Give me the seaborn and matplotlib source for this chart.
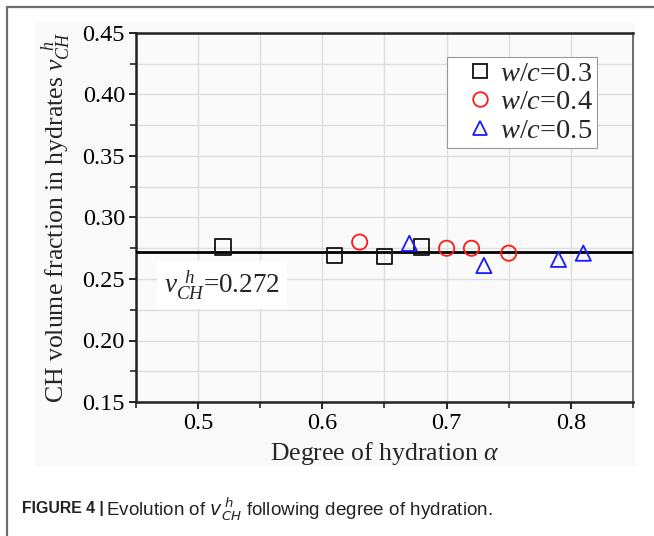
import matplotlib
matplotlib.use("Agg")
import matplotlib.pyplot as plt
from matplotlib.lines import Line2D
from matplotlib.patches import Rectangle
import numpy as np
import pandas as pd
import seaborn as sns

# Degree of hydration and CH volume fraction for each w/c ratio
alpha_03 = [0.52, 0.61, 0.65, 0.68]
vch_03 = [0.276, 0.269, 0.268, 0.276]
alpha_04 = [0.63, 0.70, 0.72, 0.75]
vch_04 = [0.280, 0.275, 0.275, 0.271]
alpha_05 = [0.67, 0.73, 0.79, 0.81]
vch_05 = [0.279, 0.261, 0.266, 0.271]
vch_mean = 0.272

series_labels = ["w/c=0.3", "w/c=0.4", "w/c=0.5"]
series_colors = ["#111111", "#ff1a1a", "#1a1aff"]
series_markers = ["s", "o", "^"]

df = pd.DataFrame({
    "alpha": alpha_03 + alpha_04 + alpha_05,
    "vch": vch_03 + vch_04 + vch_05,
    "wc": [series_labels[0]] * len(alpha_03)
          + [series_labels[1]] * len(alpha_04)
          + [series_labels[2]] * len(alpha_05),
})

sns.set_theme(style="ticks")
plt.rcParams["font.family"] = ["Liberation Serif", "DejaVu Serif"]
plt.rcParams["mathtext.fontset"] = "custom"
plt.rcParams["mathtext.rm"] = "Liberation Serif"
plt.rcParams["mathtext.it"] = "Liberation Serif:italic"
plt.rcParams["mathtext.bf"] = "Liberation Serif:bold"

fig = plt.figure(figsize=(6.54, 5.36), dpi=100)
fig.patch.set_facecolor("white")
W, H = 654, 536

# light panel behind the chart
fig.patches.append(Rectangle((35 / W, 1 - 466 / H), 600 / W, 443 / H,
                             transform=fig.transFigure, facecolor="#f9f9f9",
                             edgecolor="none", zorder=-10))
# page frame lines
fig.add_artist(Line2D([7 / W, 1.0], [1 - 7 / H, 1 - 7 / H],
                      transform=fig.transFigure, color="#6e6e6e", lw=1.6))
fig.add_artist(Line2D([7 / W, 7 / W], [1 - 7 / H, 0.0],
                      transform=fig.transFigure, color="#6e6e6e", lw=1.6))

ax = fig.add_axes([136 / W, 1 - 402 / H, 497 / W, 369 / H])
ax.set_facecolor("#fafafa")

sns.scatterplot(data=df, x="alpha", y="vch", hue="wc", style="wc",
                hue_order=series_labels, style_order=series_labels,
                palette=dict(zip(series_labels, series_colors)),
                markers=dict(zip(series_labels, series_markers)),
                s=120, linewidth=1.3, legend=False, ax=ax, zorder=4)
# hollow markers
for coll in ax.collections:
    fcs = coll.get_facecolors()
    coll.set_edgecolors(fcs)
    coll.set_facecolors("none")

ax.axhline(vch_mean, color="black", lw=2.0, zorder=3)

ax.set_xlim(0.45, 0.85)
ax.set_ylim(0.15, 0.45)
ax.set_xticks(np.arange(0.5, 0.81, 0.1))
ax.set_xticks(np.arange(0.45, 0.851, 0.05), minor=True)
ax.set_yticks(np.arange(0.15, 0.451, 0.05))
ax.set_yticks(np.arange(0.15, 0.451, 0.025), minor=True)
ax.set_xticklabels([f"{v:.1f}" for v in np.arange(0.5, 0.81, 0.1)])
ax.set_yticklabels([f"{v:.2f}" for v in np.arange(0.15, 0.451, 0.05)])
ax.grid(True, which="both", color="#dedede", lw=1.0, zorder=0)
ax.set_axisbelow(True)
ax.tick_params(axis="both", which="major", direction="out", length=5,
               width=1.2, labelsize=17.5, colors="black", pad=3)
ax.tick_params(axis="both", which="minor", direction="out", length=4,
               width=1.2)
for side in ["left", "bottom", "top", "right"]:
    ax.spines[side].set_color("#222222")
    ax.spines[side].set_linewidth(1.8)
ax.spines["right"].set_linewidth(1.2)
ax.spines["right"].set_color("#555555")

ax.set_xlabel(r"Degree of hydration $\alpha$", fontsize=18.5, labelpad=4)
ax.set_ylabel(r"CH volume fraction in hydrates $v_{CH}^{\;\;h}$",
              fontsize=18.5, labelpad=7)

ax.text(0.519, 0.245, r"$v_{CH}^{\;\;h}$=0.272", fontsize=19.5,
        ha="center", va="center", zorder=5,
        bbox=dict(facecolor="white", edgecolor="none", pad=5))

handles = [Line2D([], [], ls="none", marker=m, ms=10.5, mfc="none", mec=c,
                  mew=1.3)
           for m, c in zip(series_markers, series_colors)]
labels = [r"$w/c$=0.3", r"$w/c$=0.4", r"$w/c$=0.5"]
leg = ax.legend(handles, labels, loc="upper right",
                bbox_to_anchor=(0.928, 0.935), fontsize=20.5, frameon=True,
                fancybox=False, framealpha=1, edgecolor="#999999",
                handletextpad=-0.3, borderpad=0.15, labelspacing=0.08,
                handlelength=2.0, borderaxespad=0)
leg.get_frame().set_linewidth(0.8)
leg.set_zorder(6)

# caption
sans = ["Liberation Sans", "DejaVu Sans"]
fig.text(22 / W, 1 - 509 / H, "FIGURE 4 |", fontsize=11.4,
         family=sans, weight="bold", ha="left", va="center",
         color="#222222")
fig.text(106 / W, 1 - 509 / H,
         r"Evolution of $v_{CH}^{\,h}$ following degree of hydration.",
         fontsize=13.6, family=sans, ha="left", va="center",
         color="#222222", math_fontfamily="dejavusans")

fig.savefig("out.png", dpi=100)
